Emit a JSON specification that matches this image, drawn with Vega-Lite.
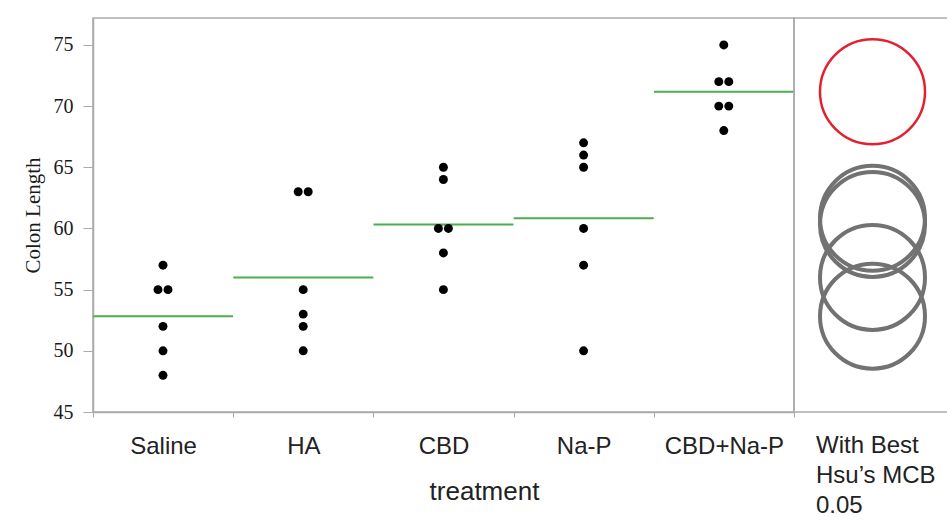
{
  "$schema": "https://vega.github.io/schema/vega-lite/v6.json",
  "background": "white",
  "padding": {"left": 21, "top": 17, "right": 0, "bottom": 0},
  "spacing": 0,
  "bounds": "flush",
  "config": {
    "view": {"stroke": "#aaaaaa", "strokeWidth": 1.5},
    "concat": {"spacing": 0},
    "axis": {"grid": false}
  },
  "datasets": {
    "colon": [
      {"treatment": "Saline", "value": 57, "dup": 0},
      {"treatment": "Saline", "value": 55, "dup": -1},
      {"treatment": "Saline", "value": 55, "dup": 1},
      {"treatment": "Saline", "value": 52, "dup": 0},
      {"treatment": "Saline", "value": 50, "dup": 0},
      {"treatment": "Saline", "value": 48, "dup": 0},
      {"treatment": "HA", "value": 63, "dup": -1},
      {"treatment": "HA", "value": 63, "dup": 1},
      {"treatment": "HA", "value": 55, "dup": 0},
      {"treatment": "HA", "value": 53, "dup": 0},
      {"treatment": "HA", "value": 52, "dup": 0},
      {"treatment": "HA", "value": 50, "dup": 0},
      {"treatment": "CBD", "value": 65, "dup": 0},
      {"treatment": "CBD", "value": 64, "dup": 0},
      {"treatment": "CBD", "value": 60, "dup": -1},
      {"treatment": "CBD", "value": 60, "dup": 1},
      {"treatment": "CBD", "value": 58, "dup": 0},
      {"treatment": "CBD", "value": 55, "dup": 0},
      {"treatment": "Na-P", "value": 67, "dup": 0},
      {"treatment": "Na-P", "value": 66, "dup": 0},
      {"treatment": "Na-P", "value": 65, "dup": 0},
      {"treatment": "Na-P", "value": 60, "dup": 0},
      {"treatment": "Na-P", "value": 57, "dup": 0},
      {"treatment": "Na-P", "value": 50, "dup": 0},
      {"treatment": "CBD+Na-P", "value": 75, "dup": 0},
      {"treatment": "CBD+Na-P", "value": 72, "dup": -1},
      {"treatment": "CBD+Na-P", "value": 72, "dup": 1},
      {"treatment": "CBD+Na-P", "value": 70, "dup": -1},
      {"treatment": "CBD+Na-P", "value": 70, "dup": 1},
      {"treatment": "CBD+Na-P", "value": 68, "dup": 0}
    ]
  },
  "data": {"name": "colon"},
  "hconcat": [
    {
      "width": 701,
      "height": 394,
      "encoding": {
        "x": {
          "field": "treatment",
          "type": "nominal",
          "sort": ["Saline", "HA", "CBD", "Na-P", "CBD+Na-P"],
          "scale": {"paddingInner": 0, "paddingOuter": 0},
          "axis": {
            "title": "treatment",
            "labelAngle": 0,
            "labelFont": "Liberation Sans",
            "labelFontSize": 24,
            "labelColor": "#222222",
            "labelBaseline": "alphabetic",
            "labelPadding": 36,
            "tickBand": "extent",
            "tickSize": 5,
            "tickColor": "#aaaaaa",
            "domainColor": "#aaaaaa",
            "domainWidth": 1.5,
            "titleFont": "Liberation Sans",
            "titleFontSize": 26,
            "titleFontWeight": "normal",
            "titleColor": "#222222",
            "titleX": 391,
            "titleY": 87,
            "titleAlign": "center",
            "titleBaseline": "alphabetic"
          }
        },
        "y": {
          "type": "quantitative",
          "scale": {"domain": [45, 77.2], "nice": false, "zero": false},
          "axis": {
            "title": "Colon Length",
            "values": [45, 50, 55, 60, 65, 70, 75],
            "labelFont": "Liberation Serif",
            "labelFontSize": 20,
            "labelColor": "#1a1a1a",
            "labelPadding": 10,
            "tickSize": 10,
            "tickColor": "#aaaaaa",
            "domainColor": "#aaaaaa",
            "domainWidth": 1.5,
            "titleFont": "Liberation Serif",
            "titleFontSize": 21,
            "titleFontWeight": "normal",
            "titleColor": "#1a1a1a",
            "titlePadding": 10
          }
        }
      },
      "layer": [
        {
          "mark": {"type": "tick", "color": "#4cae4f", "thickness": 2, "size": 140, "opacity": 1},
          "encoding": {
            "y": {"field": "value", "aggregate": "mean", "type": "quantitative"}
          }
        },
        {
          "mark": {"type": "circle", "size": 80, "color": "black", "opacity": 1},
          "encoding": {
            "y": {"field": "value", "type": "quantitative"},
            "xOffset": {
              "field": "dup",
              "type": "quantitative",
              "scale": {"domain": [-1, 1], "range": [65, 75]}
            }
          }
        }
      ]
    },
    {
      "width": 157,
      "height": 394,
      "title": {
        "text": ["With Best", "Hsu’s MCB", "0.05"],
        "orient": "bottom",
        "anchor": "start",
        "dx": 22,
        "offset": 22,
        "baseline": "top",
        "lineHeight": 30,
        "font": "Liberation Sans",
        "fontSize": 24,
        "fontWeight": "normal",
        "color": "#222222"
      },
      "transform": [
        {"aggregate": [{"op": "mean", "field": "value", "as": "mean"}], "groupby": ["treatment"]}
      ],
      "mark": {"type": "point", "shape": "circle", "size": 11025, "filled": false, "opacity": 1},
      "encoding": {
        "y": {
          "field": "mean",
          "type": "quantitative",
          "scale": {"domain": [45, 77.2], "nice": false, "zero": false},
          "axis": null
        },
        "stroke": {
          "condition": {"test": "datum.treatment === 'CBD+Na-P'", "value": "#e3202f"},
          "value": "#727272"
        },
        "strokeWidth": {
          "condition": {"test": "datum.treatment === 'CBD+Na-P'", "value": 2.5},
          "value": 4
        }
      }
    }
  ]
}
